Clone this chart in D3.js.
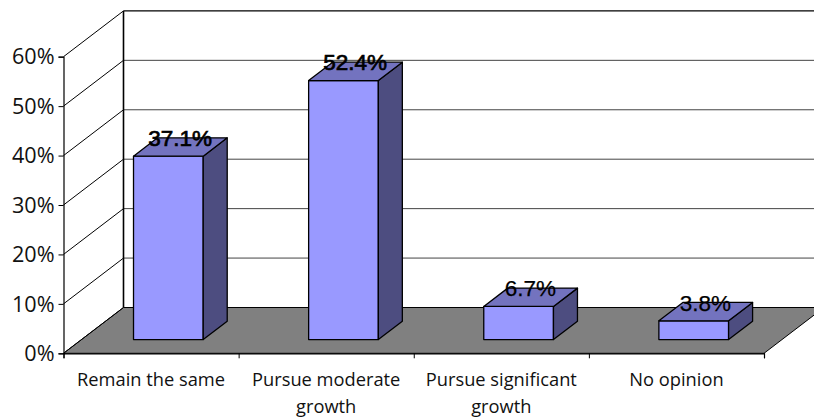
<!DOCTYPE html>
<html><head><meta charset="utf-8">
<script src="https://cdnjs.cloudflare.com/ajax/libs/d3/7.8.5/d3.min.js"></script>
<style>html,body{margin:0;padding:0;background:#fff;overflow:hidden}svg{display:block}</style>
</head><body><svg id="c" width="814" height="417"></svg>
<script>
const categories = [["Remain the same"],["Pursue moderate","growth"],["Pursue significant","growth"],["No opinion"]];
const values = [37.1,52.4,6.7,3.8];
const valueLabels = ["37.1%","52.4%","6.7%","3.8%"];
const yTicks = [0,10,20,30,40,50,60];

const svg = d3.select("#c");
const y = d3.scaleLinear().domain([0,60]).range([353.3,56.7]);
const x = d3.scaleLinear().domain([0,4]).range([63.5,764]);
const zx = d3.scaleLinear().domain([0,1]).range([0,60]);
const zy = d3.scaleLinear().domain([0,1]).range([0,-45.8]);
const P = (c,v,z)=>[x(c)+zx(z), y(v)+zy(z)];
const line = d3.line();
const poly = (pts,fill,stroke,sw)=>svg.append("path").attr("d",line(pts)+"Z")
  .attr("fill",fill).attr("stroke",stroke||"none").attr("stroke-width",sw||1).attr("stroke-linejoin","round");
const seg = (a,b,stroke,sw)=>svg.append("path").attr("d",line([a,b])).attr("fill","none").attr("stroke",stroke).attr("stroke-width",sw);

poly([P(0,0,0),P(4,0,0),P(4,0,1),P(0,0,1)],"#808080","#000",1);

yTicks.forEach(t=>{
  if(t>0){
    seg(P(0,t,0),P(0,t,1),"#000",1);
    seg(P(0,t,1),P(4.2,t,1),t===60?"#000":"#444",t===60?1.2:1);
  }
});
seg(P(0,0,1),P(0,60,1),"#000",1.6);
seg(P(0,0,0),P(0,0,1),"#000",1);

svg.append("g").attr("transform",`translate(${x(0)},0)`)
  .call(d3.axisLeft(y).tickValues(yTicks).tickSize(5).tickFormat(d=>d+"%"))
  .call(g=>{g.select(".domain").attr("stroke","#000").attr("stroke-width",1.2);
    g.selectAll("line").attr("stroke","#000");
    g.selectAll("text").attr("font-family","'Open Sans'").attr("font-size",21.6).attr("fill","#111").attr("dx",-1).attr("dy","0.33em");});

svg.append("g").attr("transform",`translate(0,${y(0)})`)
  .call(d3.axisBottom(x).tickValues(d3.range(0,5)).tickSize(5).tickFormat(""))
  .call(g=>{g.select(".domain").attr("stroke","#000").attr("stroke-width",1.2);
    g.selectAll("line").attr("stroke","#000");});

categories.forEach((lines,i)=>{
  const t = svg.append("text").attr("text-anchor","middle").attr("font-family","'Open Sans'").attr("font-size",18.3).attr("fill","#111");
  lines.forEach((s,k)=>t.append("tspan").attr("x",x(i+0.5)).attr("y",386+k*27).text(s));
});

values.forEach((v,i)=>{
  const a=i+0.297, b=i+0.695, f=0.3, k=0.7;
  poly([P(a,0,f),P(b,0,f),P(b,v,f),P(a,v,f)],"#9999FF","#000",1.3);
  poly([P(b,0,f),P(b,0,k),P(b,v,k),P(b,v,f)],"#4D4D80","#000",1.3);
  poly([P(a,v,f),P(b,v,f),P(b,v,k),P(a,v,k)],"#7373BF","#000",1.3);
});
values.forEach((v,i)=>{
  const p=P(i+0.5,v,0.7);
  svg.append("text").attr("x",p[0]-13).attr("y",p[1]).attr("dy","0.36em").attr("text-anchor","middle")
    .attr("font-family","'Liberation Sans'").attr("font-size",22.5).attr("fill","#000")
    .attr("stroke","#000").attr("stroke-width",v>20?0.7:0.25).text(valueLabels[i]);
});
</script></body></html>
